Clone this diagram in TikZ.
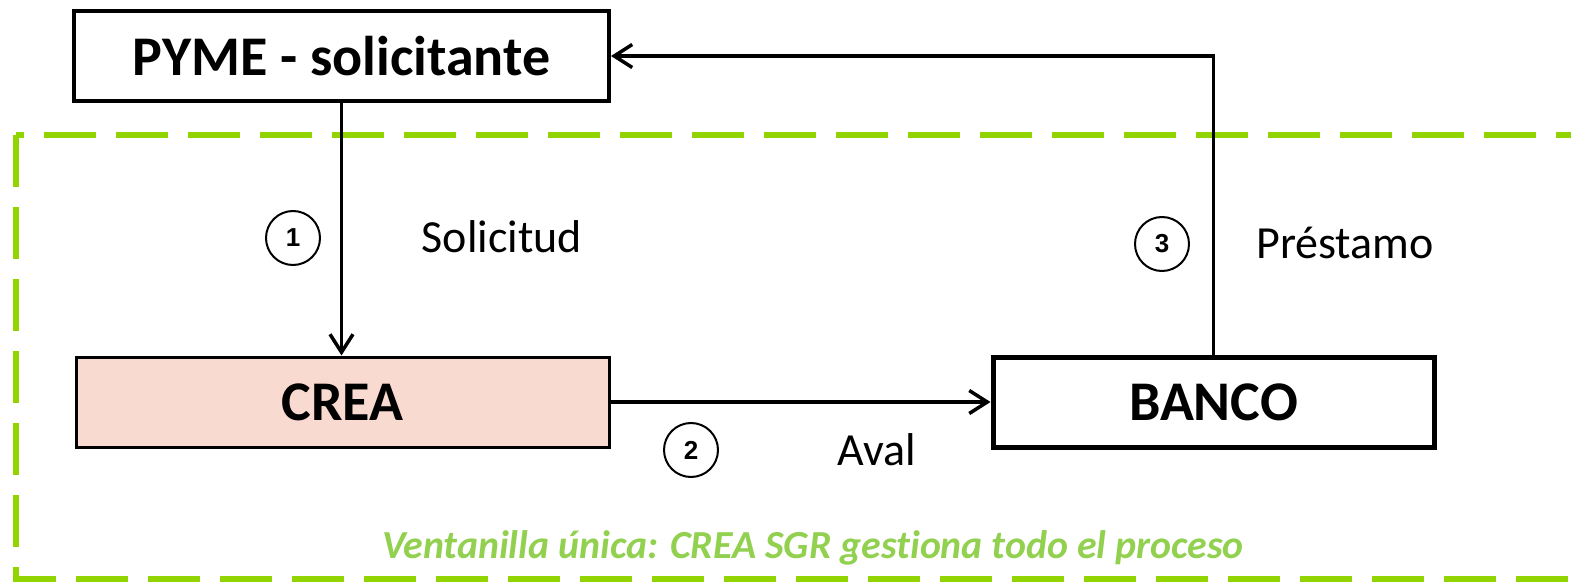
\documentclass[tikz,border=0pt]{standalone}
\usepackage{fontspec}
\setmainfont[Ligatures=NoCommon]{Carlito}
\newfontfamily\numfont{Liberation Sans}
\usetikzlibrary{arrows.meta}
\definecolor{dashgreen}{HTML}{92D400}
\definecolor{textgreen}{HTML}{92D050}
\definecolor{creapink}{HTML}{F9DAD1}
\begin{document}
\begin{tikzpicture}[x=0.5pt,y=-0.5pt,
  boxnode/.style={draw=black, minimum height=45pt, inner sep=0pt, font=\fontsize{28}{30}\selectfont\bfseries},
  conn/.style={line width=1.75pt, -{Straight Barb[length=9pt,width=11.5pt,line width=1.75pt]}},
  numcirc/.style={draw=black, circle, line width=1pt, minimum size=27pt, inner sep=0pt, font=\numfont\fontsize{13}{15}\selectfont\bfseries},
  lbl/.style={font=\fontsize{23}{26}\selectfont, inner sep=0pt}
]
\useasboundingbox (0,0) rectangle (1571,583);
\begin{scope}
\clip (0,0) rectangle (1571,583);
\draw[dashgreen, line width=3pt, dash pattern=on 26pt off 10pt] (16,135) rectangle (1700,579);
\end{scope}

\node[boxnode, line width=2pt, minimum width=267.5pt] (pyme) at (341.5,56) {PYME - solicitante};
\node[boxnode, line width=1.5pt, minimum width=266.5pt, fill=creapink] (crea) at (342.5,402) {CREA};
\node[boxnode, line width=2.5pt, minimum width=220.5pt] (banco) at (1213.5,402) {BANCO};

\draw[conn] (pyme.south) -- (pyme.south |- crea.north);
\draw[conn] (crea.east) -- (banco.west);
\draw[conn] (banco.north) |- (pyme.east);

\node[numcirc] (c1) at (293,238) {1};
\node[numcirc] (c2) at (691,450) {2};
\node[numcirc] (c3) at (1162,244) {3};

\node[lbl] (l1) at (502,237) {Solicitud};
\node[lbl] (l2) at (877,450) {Aval};
\node[lbl] (l3) at (1345,243) {Préstamo};

\node[font=\fontsize{19.9}{22}\selectfont\bfseries\itshape, text=textgreen, inner sep=0pt] (vt) at (813,548) {Ventanilla única: CREA SGR gestiona todo el proceso};
\end{tikzpicture}
\end{document}
